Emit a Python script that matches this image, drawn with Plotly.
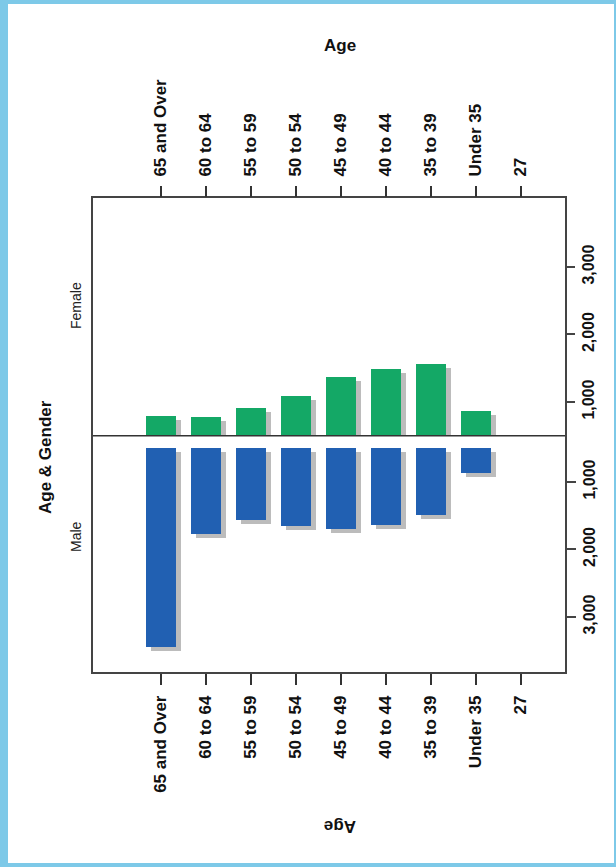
import plotly.graph_objects as go

# ---- data ----
age_groups = ["65 and Over", "60 to 64", "55 to 59", "50 to 54", "45 to 49",
              "40 to 44", "35 to 39", "Under 35", "27"]
female = [790, 780, 910, 1090, 1370, 1490, 1570, 870, None]
male = [3440, 1770, 1570, 1650, 1690, 1630, 1490, 860, None]
tick_vals = [1000, 2000, 3000]
tick_text = ["1,000", "2,000", "3,000"]
BASE = 500  # both halves start at 500 on their own scales

# ---- layout constants ----
W, H = 616, 867
L, R, T, B = 93, 51, 198, 195
PW, PH = W - L - R, H - T - B
GREEN = "#14A866"
BLUE = "#2160B2"
SHADOW = "rgba(160,160,160,0.7)"
BW = 0.667
SHX = 5 / 45.0          # shadow shift in category units
SHY = 4 / 0.0675        # shadow shift in value units
FONT = "Liberation Sans, Arial, sans-serif"


def px(p):
    return (p - L) / PW


def py(p):
    return (H - B - p) / PH


def lengths(vals, base, shrink=0):
    return [None if v is None else v - base - shrink for v in vals]


fig = go.Figure()
# male shadow + bars (bottom x axis, main y axis reversed)
fig.add_trace(go.Bar(x=age_groups, y=lengths(male, BASE), base=BASE + SHY,
                     width=BW, offset=-BW / 2 + SHX,
                     marker=dict(color=SHADOW, line=dict(width=0)),
                     xaxis="x", yaxis="y", hoverinfo="skip", showlegend=False))
fig.add_trace(go.Bar(x=age_groups, y=lengths(male, BASE), base=BASE,
                     width=BW, offset=-BW / 2,
                     marker=dict(color=BLUE, line=dict(width=0)),
                     xaxis="x", yaxis="y", name="Male", showlegend=False))
# female shadow + bars (top x axis, overlaid female y axis)
fig.add_trace(go.Bar(x=age_groups, y=lengths(female, BASE, SHY),
                     base=BASE, width=BW, offset=-BW / 2 + SHX,
                     marker=dict(color=SHADOW, line=dict(width=0)),
                     xaxis="x2", yaxis="y2", hoverinfo="skip", showlegend=False))
fig.add_trace(go.Bar(x=age_groups, y=lengths(female, BASE), base=BASE,
                     width=BW, offset=-BW / 2,
                     marker=dict(color=GREEN, line=dict(width=0)),
                     xaxis="x2", yaxis="y2", name="Female", showlegend=False))

xcommon = dict(type="category", categoryorder="array", categoryarray=age_groups,
               range=[-1.51, 8.98], tickangle=-90, ticks="outside", ticklen=11,
               tickwidth=2, tickcolor="#333",
               tickfont=dict(family=FONT, size=17, color="#111", weight="bold"),
               showgrid=False, zeroline=False, fixedrange=True)
ycommon = dict(side="right", tickvals=tick_vals, ticktext=tick_text,
               tickangle=-90, ticks="outside", ticklen=9, tickwidth=1.5,
               tickcolor="#444",
               tickfont=dict(family=FONT, size=16, color="#111", weight="bold"),
               showgrid=False, zeroline=False, fixedrange=True)

ann_font = dict(family=FONT, size=17, color="#111")
fig.update_layout(
    width=W, height=H, margin=dict(l=L, r=R, t=T, b=B, pad=0),
    paper_bgcolor="#7DC9E8", plot_bgcolor="white",
    barmode="overlay", bargap=0, showlegend=False,
    xaxis=dict(**xcommon, side="bottom", anchor="y", showline=True,
               mirror=True, linecolor="#444", linewidth=1.5,
               ticklabelstandoff=4),
    xaxis2=dict(**xcommon, side="top", overlaying="x", anchor="y2",
                showline=False, ticklabelstandoff=6),
    yaxis=dict(**ycommon, range=[3815, -3207], anchor="x", showline=True,
               mirror=True, linecolor="#444", linewidth=1.5),
    yaxis2=dict(**ycommon, range=[-3000, 4022], overlaying="y", anchor="x2",
                showline=False),
    shapes=[
        dict(type="rect", xref="paper", yref="paper", layer="below",
             x0=px(8), x1=px(614), y0=py(863), y1=py(4),
             fillcolor="white", line=dict(width=0)),
        dict(type="line", xref="paper", yref="y2", x0=0, x1=1,
             y0=BASE, y1=BASE, line=dict(color="#333", width=1.5)),
    ],
    annotations=[
        dict(text="<b>Age</b>", xref="paper", yref="paper", x=px(340), y=py(45),
             xanchor="center", yanchor="middle", showarrow=False, font=ann_font),
        dict(text="<b>Age</b>", xref="paper", yref="paper", x=px(340), y=py(827),
             xanchor="center", yanchor="middle", showarrow=False,
             textangle=180, font=ann_font),
        dict(text="<b>Age &amp; Gender</b>", xref="paper", yref="paper",
             x=px(45), y=py(457), xanchor="center", yanchor="middle",
             showarrow=False, textangle=-90, font=ann_font),
        dict(text="Female", xref="paper", yref="paper", x=px(76), y=py(306),
             xanchor="center", yanchor="middle", showarrow=False,
             textangle=-90, font=dict(family=FONT, size=14, color="#222")),
        dict(text="Male", xref="paper", yref="paper", x=px(76), y=py(537),
             xanchor="center", yanchor="middle", showarrow=False,
             textangle=-90, font=dict(family=FONT, size=14, color="#222")),
    ],
)

fig.write_html("out.html", config={"displayModeBar": False},
               post_script="document.body.style.margin='0';"
                           "document.body.style.overflow='hidden';")
